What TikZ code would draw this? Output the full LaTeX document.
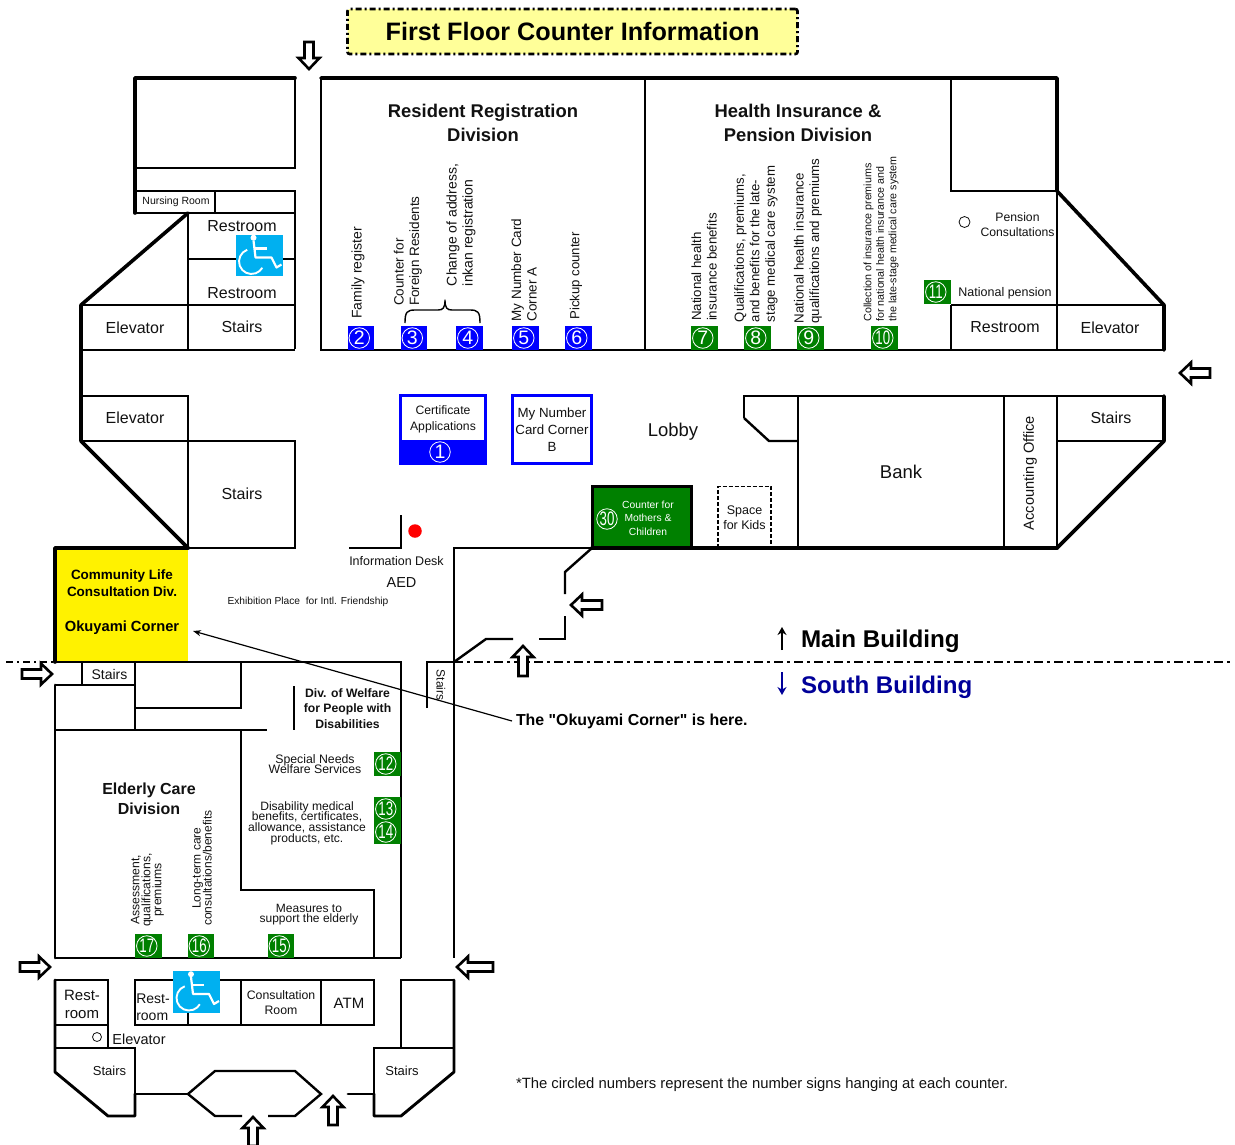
\documentclass[tikz,border=0pt]{standalone}
\usepackage{fontspec}
\setmainfont{Liberation Sans}
\newfontfamily\plainfont{Liberation Sans}
\usetikzlibrary{arrows.meta}
\newcommand{\fz}[2]{\fontsize{#1}{#2}\selectfont\lineskiplimit=-30pt\relax}
\definecolor{badgegreen}{HTML}{008000}
\definecolor{badgeblue}{HTML}{0000FF}
\definecolor{iconblue}{HTML}{00B0F0}
\definecolor{titleyellow}{HTML}{FFFF99}
\definecolor{southblue}{HTML}{000099}
\definecolor{ink}{HTML}{111111}
\tikzset{
  wall/.style={draw=black,line width=2.4pt,line cap=square,line join=miter},
  medium/.style={draw=black,line width=2.9pt,line cap=round,line join=round},
  heavy/.style={draw=black,line width=3.6pt,line cap=round,line join=round},
  lab/.style={inner sep=0pt,outer sep=0pt,align=center,text=ink,yshift=-1pt},
  vert/.style={lab,rotate=90},
  badge/.style={inner sep=0pt,outer sep=0pt,draw=none,minimum width=26.5pt,minimum height=24pt},
  ring/.style={circle,draw=white,line width=.8pt,inner sep=0pt,minimum size=20.5pt,text=white,font=\fz{19.5}{19}},
  pics/entry/.style={code={
    \draw[fill=white,draw=black,line width=2.6pt,line join=miter,miter limit=6]
      (0,-4.5)--({#1-11},-4.5)--({#1-11},-10.5)--(#1,0)--({#1-11},10.5)--({#1-11},4.5)--(0,4.5)--cycle;
  }},
  pics/wheelchair/.style={code={
    \fill[iconblue] (0,0) rectangle (47,41.5);
    \fill[white] (18,3.2) circle[radius=3pt];
    \draw[white,line width=2.2pt,line join=round] (18,6)--(20,23)--(36,23)--(41,33)--(46,30);
    \draw[white,line width=2.2pt] (19,14)--(31,14);
    \draw[white,line width=1.9pt] ([shift={(110:12.5pt)}]16,27) arc[start angle=110,end angle=330,radius=12.5pt];
  }},
}
\begin{document}
\begin{tikzpicture}[x=1pt,y=-1pt]
\useasboundingbox (0,0) rectangle (1235,1144);
% ---------- fills
\node[draw=black,dash pattern=on 6pt off 3pt on 2pt off 3pt,line width=2.6pt,rounded corners=2pt,fill=titleyellow,
  minimum width=450pt,minimum height=45pt,inner sep=0pt,font=\bfseries\fz{25.2}{30},text=black] (title) at (572.5,31.5) {First Floor Counter Information};
\fill[yellow] (55,548) rectangle (188,662);
\fill[badgegreen] (592,486) rectangle (691,548);
\fill[badgeblue] (399,440) rectangle (487,465);
% ---------- dashed building boundary
\draw[black,line width=2pt,dash pattern=on 7pt off 4pt on 2pt off 4pt] (6,662)--(55,662);
\draw[black,line width=2pt,dash pattern=on 9pt off 4pt on 3pt off 4pt] (454,662)--(1232,662);
% ---------- main building, heavy outline
\draw[heavy] (295,78)--(135,78)--(135,191);
\draw[heavy] (321,78)--(1057,78)--(1057,191)--(1164,305)--(1164,350);
\draw[heavy] (188,213)--(81,305)--(81,441)--(188,548);
\draw[heavy] (1164,396)--(1164,441)--(1057,548);
\draw[heavy] (592,548)--(1057,548);
\draw[heavy] (55,662)--(55,548)--(188,548);
\draw[heavy] (135,191)--(135,213);
% ---------- main building, thin walls
\draw[wall] (295,78)--(295,168)--(135,168);
\draw[wall] (135,191)--(295,191)--(295,349);
\draw[wall] (135,213)--(295,213);
\draw[wall] (215,191)--(215,213);
\draw[wall] (188,213)--(188,349);
\draw[wall] (188,259)--(295,259);
\draw[wall] (81,305)--(295,305);
\draw[wall] (81,350)--(295,350);
\draw[wall] (321,78)--(321,350)--(1164,350);
\draw[wall] (645,78)--(645,350);
\draw[wall] (951,78)--(951,191)--(1057,191)--(1057,350);
\draw[wall] (951,305)--(951,350);
\draw[wall] (951,305)--(1164,305);
\draw[wall] (81,396)--(188,396)--(188,548);
\draw[wall] (81,441)--(295,441)--(295,548)--(188,548);
\draw[wall] (744,418)--(744,396)--(1164,396);
\draw[wall] (744,418)--(769,441)--(798,441);
\draw[wall] (798,396)--(798,548);
\draw[wall] (1004,396)--(1004,548);
\draw[wall] (1057,396)--(1057,548);
\draw[wall] (1057,441)--(1164,441);
\draw[wall] (349,548)--(401,548)--(401,515);
\draw[wall] (592,548)--(454,548)--(454,958);
\draw[wall] (592,548)--(565,572)--(565,594);
\draw[wall] (565,616)--(565,639)--(539,639);
\draw[wall] (513,639)--(486,639)--(454,662);
\draw[line width=3pt] (592,486) rectangle (691,548);
\draw[line width=1.8pt,dash pattern=on 4pt off 2pt] (718,548)--(718,486.5)--(771,486.5)--(771,548);
% ---------- blue counters
\draw[badgeblue,line width=3pt] (400.5,395.5) rectangle (485.5,463.5);
\draw[badgeblue,line width=3pt] (512.5,395.5) rectangle (591.5,463.5);
% ---------- south building
\draw[wall] (55,662)--(401,662)--(401,958);
\draw[wall] (427,708)--(427,662)--(454,662);
\draw[medium] (55,685)--(55,958);
\draw[wall] (55,685)--(135,685);
\draw[wall] (82,662)--(82,685);
\draw[wall] (135,662)--(135,730);
\draw[wall] (241,662)--(241,708)--(135,708);
\draw[wall] (55,730)--(267,730);
\draw[wall] (294,686)--(294,730);
\draw[wall] (241,730)--(241,890)--(374,890)--(374,958);
\draw[wall] (55,958)--(401,958);
\draw[medium] (55,980)--(55,1072)--(108,1116)--(135,1116)--(135,1094);
\draw[wall] (55,980)--(108,980)--(108,1048);
\draw[wall] (55,1025)--(108,1025);
\draw[wall] (55,1048)--(135,1048)--(135,1094);
\draw[wall] (135,980)--(374,980)--(374,1025)--(135,1025)--cycle;
\draw[wall] (188,1000)--(188,1025);
\draw[wall] (241,980)--(241,1025);
\draw[wall] (321,980)--(321,1025);
\draw[medium] (135,1094)--(188,1094);
\draw[wall] (268,1116)--(295,1116)--(321,1094)--(295,1071)--(215,1071)--(188,1094)--(215,1116)--(242,1116);
\draw[medium] (348,1094)--(374,1094);
\draw[medium] (374,1094)--(374,1116)--(401,1116)--(454,1072)--(454,980);
\draw[wall] (374,1094)--(374,1048)--(454,1048);
\draw[wall] (401,1048)--(401,980)--(454,980);
% ---------- wheelchair icons
\pic at (235.5,234.5) {wheelchair};
\pic at (173,971) {wheelchair};
% ---------- counter badges
\foreach \n/\x/\y/\s in {2/361/338/2,3/414/338/3,4/469.5/338/4,5/525.5/338/5,6/578.5/338/6}{
  \node[badge,fill=badgeblue] (b\n) at (\x,\y) {};
  \node[ring,xshift=-1.7pt] (r\n) at (b\n) {\s};
}
\foreach \n/\x/\y/\s in {7/704.5/338/7,8/757.5/338/8,9/810.5/338/9}{
  \node[badge,fill=badgegreen] (b\n) at (\x,\y) {};
  \node[ring,xshift=-1.7pt] (r\n) at (b\n) {\s};
}
\foreach \n/\x/\y in {10/884.5/338,11/937.5/292,12/387.5/764,13/387.5/809,14/387.5/832,15/281/946,16/201/946,17/148.5/946}{
  \node[badge,fill=badgegreen] (b\n) at (\x,\y) {};
  \node[ring,xshift=-1.7pt] (r\n) at (b\n) {\scalebox{.68}[1]{\n}};
}
\node[ring] (r1) at (440,452) {1};
\node[ring] (r30) at (607,519) {\scalebox{.68}[1]{30}};
\node[circle,draw=ink,line width=.8pt,inner sep=0pt,minimum size=11pt] (pc) at (964.5,222) {};
\node[circle,draw=ink,line width=.8pt,inner sep=0pt,minimum size=9pt] (ec) at (97,1037) {};
\node[circle,fill=red,inner sep=0pt,minimum size=13.5pt] (aed) at (415,531) {};
% ---------- brace for 3 and 4
\draw[line width=1.4pt,line join=round] (405,323) .. controls (405,312) and (407,310) .. (415,310)
  -- (438,310) .. controls (443,310) and (445,308) .. (445,300)
  .. controls (445,308) and (447,310) .. (452,310) -- (470,310)
  .. controls (478,310) and (480,312) .. (480,323);
% ---------- entry arrows
\pic[rotate=-90] at (309,42) {entry=27};
\pic[rotate=180] at (1210,373) {entry=30};
\pic[rotate=180] at (602,605) {entry=31};
\pic[rotate=90] at (523,676) {entry=30};
\pic at (22,674) {entry=30};
\pic at (20,967) {entry=30};
\pic[rotate=180] at (493,967) {entry=36};
\pic[rotate=90] at (253,1146) {entry=29};
\pic[rotate=90] at (333,1125) {entry=29};
% ---------- texts, main building
\node[lab,font=\bfseries\fz{18.4}{24}] (t_res) at (483,122) {Resident Registration\\Division};
\node[lab,font=\bfseries\fz{18.4}{24}] (t_hea) at (798,122) {Health Insurance \&\\Pension Division};
\node[lab,font=\fz{10.5}{12}] (t_nur) at (176,201) {Nursing Room};
\node[lab,font=\fz{16}{18}] (t_r1) at (242,225) {Restroom};
\node[lab,font=\fz{16}{18}] (t_r2) at (242,292) {Restroom};
\node[lab,font=\fz{16}{18}] (t_e1) at (135,327) {Elevator};
\node[lab,font=\fz{16}{18}] (t_s1) at (242,326) {Stairs};
\node[lab,font=\fz{16}{18}] (t_e2) at (135,417) {Elevator};
\node[lab,font=\fz{16}{18}] (t_s2) at (242,493) {Stairs};
\node[lab,font=\fz{16}{18}] (t_r3) at (1005,326) {Restroom};
\node[lab,font=\fz{16}{18}] (t_e3) at (1110,327) {Elevator};
\node[lab,font=\fz{16}{18}] (t_s3) at (1111,417) {Stairs};
\node[lab,font=\fz{18.5}{20}] (t_bank) at (901,471) {Bank};
\node[lab,font=\fz{18.5}{20}] (t_lob) at (673,430.5) {Lobby};
\node[vert,font=\fz{14.6}{17}] (t_acc) at (1030,472) {Accounting Office};
\node[vert,font=\fz{14}{16},align=left] (t2) at (358,272) {Family register};
\node[vert,font=\fz{13.5}{15.5},align=left] (t3) at (408,250) {Counter for\\Foreign Residents};
\node[vert,font=\fz{14}{16},align=left] (t4) at (461,224) {Change of address,\\inkan registration};
\node[vert,font=\fz{13.5}{15.5},align=left] (t5) at (524,269) {My Number Card\\Corner A};
\node[vert,font=\fz{13.2}{16},align=left] (t6) at (576,275) {Pickup counter};
\node[vert,font=\fz{13.3}{15.5},align=left] (t7) at (704,266) {National health\\insurance benefits};
\node[vert,font=\fz{13.2}{15.5},align=left] (t8) at (756,243) {Qualifications, premiums,\\and benefits for the late-\\stage medical care system};
\node[vert,font=\fz{13.3}{15.5},align=left] (t9) at (808,240) {National health insurance\\qualifications and premiums};
\node[vert,font=\fz{10.7}{12.5},align=left] (t10) at (881,238) {Collection of insurance premiums\\for national health insurance and\\the late-stage medical care system};
\node[lab,font=\fz{12.2}{15}] (t_pen) at (1017.5,224) {Pension\\Consultations};
\node[lab,font=\fz{12.5}{14}] (t11) at (1005,292) {National pension};
\node[lab,font=\fz{12.2}{16}] (t1) at (443,418) {Certificate\\Applications};
\node[lab,font=\fz{13.3}{17}] (t_mn) at (552,429) {My Number\\Card Corner\\B};
\node[lab,font=\fz{10.3}{13.5},text=white] (t30) at (648,517) {Counter for\\Mothers \&\\Children};
\node[lab,font=\fz{12.5}{15}] (t_kid) at (744.5,517) {Space\\for Kids};
\node[lab,font=\fz{12.5}{14}] (t_inf) at (396.5,560) {Information Desk};
\node[lab,font=\fz{14.5}{16}] (t_aed) at (401.5,582) {AED};
\node[lab,font=\fz{10.2}{13}] (t_exh) at (308,601) {Exhibition Place~ for Intl. Friendship};
% ---------- texts, yellow box
\node[lab,font=\bfseries\fz{13.5}{17},text=black] (t_com) at (122,582) {Community Life\\Consultation Div.};
\node[lab,font=\bfseries\fz{14.7}{17},text=black] (t_oku) at (122,627) {Okuyami Corner};
% ---------- texts, south building
\node[lab,font=\fz{14}{16}] (t_s4) at (109.5,673) {Stairs};
\node[lab,rotate=-90,font=\fz{12}{14}] (t_s5) at (441,684) {Stairs};
\node[lab,font=\bfseries\fz{12.2}{15.5}] (t_wel) at (347.5,707.5) {Div. of Welfare\\for People with\\Disabilities};
\node[lab,font=\fz{12.3}{9.6}] (t12) at (315,763) {Special Needs\\Welfare Services};
\node[lab,font=\fz{12.1}{10.6}] (t13) at (307,822) {Disability medical\\benefits, certificates,\\allowance, assistance\\products, etc.};
\node[lab,font=\bfseries\fz{16}{20}] (t_eld) at (149,798) {Elderly Care\\Division};
\node[vert,font=\fz{12.2}{11}] (t17) at (147.5,889) {Assessment,\\qualifications,\\premiums};
\node[vert,font=\fz{12}{11}] (t16) at (202,867) {Long-term care\\consultations/benefits};
\node[lab,font=\fz{12}{10}] (t15) at (309,914) {Measures to\\support the elderly};
\node[lab,font=\fz{15}{18}] (t_rr1) at (82,1003) {Rest-\\room};
\node[lab,font=\fz{14}{17},align=left] (t_rr2) at (153,1006) {Rest-\\room};
\node[lab,font=\fz{12.3}{15}] (t_con) at (281,1002) {Consultation\\Room};
\node[lab,font=\fz{15}{17}] (t_atm) at (349,1002) {ATM};
\node[lab,font=\fz{14.5}{16}] (t_e4) at (139,1038) {Elevator};
\node[lab,font=\fz{13}{15}] (t_s6) at (109.5,1070) {Stairs};
\node[lab,font=\fz{13}{15}] (t_s7) at (402,1070) {Stairs};
% ---------- legend
\coordinate (mu1) at (782,650); \coordinate (mu2) at (782,627);
\coordinate (sd1) at (782,672); \coordinate (sd2) at (782,695);
\draw[black,line width=2.2pt,-{Stealth[length=8pt,width=9pt]}] (mu1)--(mu2);
\draw[southblue,line width=2.2pt,-{Stealth[length=8pt,width=9pt]}] (sd1)--(sd2);
\node[lab,anchor=west,font=\bfseries\fz{24.2}{26},text=black] (t_main) at (801,640) {Main Building};
\node[lab,anchor=west,font=\bfseries\fz{24.1}{26},text=southblue] (t_south) at (801,686) {South Building};
\node[lab,anchor=west,font=\plainfont\bfseries\fz{15.9}{18},text=black] (t_here) at (516,720) {The "Okuyami Corner" is here.};
\node[lab,anchor=west,font=\fz{14.85}{17}] (t_foot) at (516,1084) {*The circled numbers represent the number signs hanging at each counter.};
\coordinate (oku) at (193,631);
\draw[black,line width=1.2pt,-{Stealth[length=8pt,width=6pt]}] ([xshift=-4pt]t_here.west)--(oku);
\end{tikzpicture}
\end{document}
